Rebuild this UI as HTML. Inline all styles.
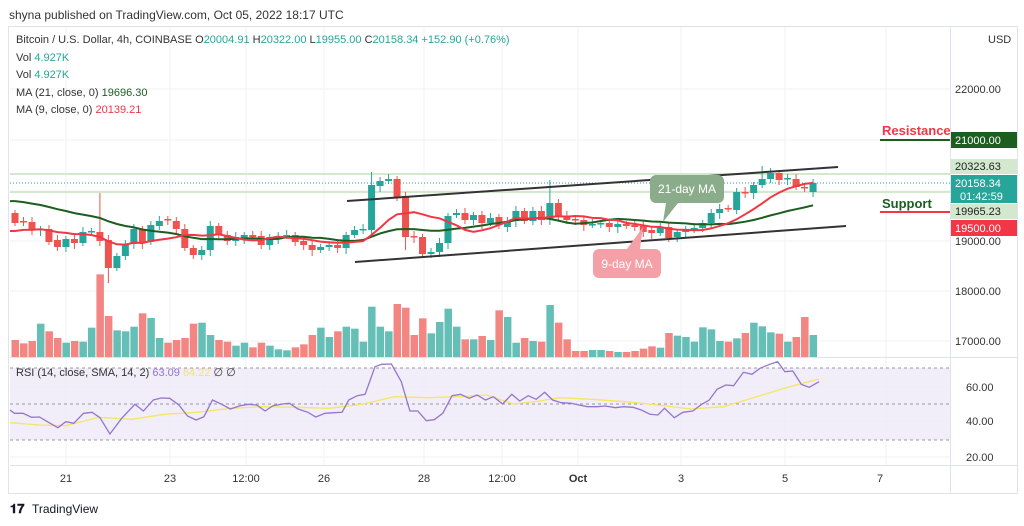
<!DOCTYPE html>
<html><head><meta charset="utf-8"><style>
body{margin:0;background:#fff;width:1024px;height:526px;overflow:hidden;font-family:"Liberation Sans",sans-serif}
svg{position:absolute;left:0;top:0}
</style></head><body>
<svg id="s" width="1024" height="526" xmlns="http://www.w3.org/2000/svg" font-family="Liberation Sans, sans-serif">
<text x="9" y="19" font-size="12" fill="#333">shyna published on TradingView.com, Oct 05, 2022 18:17 UTC</text>
<rect x="8.5" y="26.5" width="1009" height="467" fill="none" stroke="#e0e3eb"/>
<g id="grid" stroke="#f0f2f5" stroke-width="1"></g>
<rect x="10" y="368" width="940" height="72" fill="#ede8f7" opacity="0.8"/>
<g stroke="#9598a1" stroke-dasharray="3,3" stroke-width="1">
<line x1="10" y1="368" x2="950" y2="368"/><line x1="10" y1="404" x2="950" y2="404"/><line x1="10" y1="440" x2="950" y2="440"/></g>
<line x1="10" y1="174" x2="950" y2="174" stroke="#d3e8cf" stroke-width="2"/>
<line x1="10" y1="192" x2="950" y2="192" stroke="#d3e8cf" stroke-width="2"/>
<line x1="10" y1="183" x2="950" y2="183" stroke="#26a69a" stroke-dasharray="1,2"/>
<g id="vol"></g><g id="cand"></g>
<polyline id="ma21" fill="none" stroke="#1b5e20" stroke-width="2"/>
<polyline id="ma9" fill="none" stroke="#f23645" stroke-width="2"/>
<line x1="347" y1="201" x2="838" y2="167" stroke="#333" stroke-width="2"/>
<line x1="355" y1="262" x2="846" y2="226" stroke="#333" stroke-width="2"/>
<path d="M656 175h62a6 6 0 0 1 6 6v16a6 6 0 0 1-6 6h-40l-15 19l3-19h-10a6 6 0 0 1-6-6v-16a6 6 0 0 1 6-6z" fill="#8aac8a"/>
<text x="687" y="193" font-size="12" fill="#fff" text-anchor="middle">21-day MA</text>
<path d="M599 249h56a6 6 0 0 1 6 6v17a6 6 0 0 1-6 6h-56a6 6 0 0 1-6-6v-17a6 6 0 0 1 6-6h28l16-22l-3 22z" fill="#f5a0a6"/>
<text x="627" y="268" font-size="12" fill="#fff" text-anchor="middle">9-day MA</text>
<line x1="880" y1="140" x2="950" y2="140" stroke="#1b5e20" stroke-width="2"/>
<text x="882" y="135" font-size="13" font-weight="bold" fill="#f23645">Resistance</text>
<line x1="880" y1="212" x2="950" y2="212" stroke="#f23645" stroke-width="2"/>
<text x="882" y="208" font-size="13" font-weight="bold" fill="#1b5e20">Support</text>
<polyline id="rsima" fill="none" stroke="#f5e663" stroke-width="1.3"/>
<polyline id="rsi" fill="none" stroke="#9575cd" stroke-width="1.3"/>
<line x1="950.5" y1="27" x2="950.5" y2="493" stroke="#e0e3eb"/>
<line x1="10" y1="357.5" x2="1017" y2="357.5" stroke="#e0e3eb"/>
<line x1="10" y1="465.5" x2="1017" y2="465.5" stroke="#e0e3eb"/>
<g font-size="11" fill="#333">
<text x="988" y="43">USD</text>
<text x="955" y="93">22000.00</text>
<text x="955" y="295">18000.00</text>
<text x="955" y="345">17000.00</text>
<text x="955" y="245">19000.00</text>
<text x="966" y="391">60.00</text><text x="966" y="425">40.00</text><text x="966" y="461">20.00</text>
</g>
<rect x="951" y="132" width="66" height="16" fill="#1b5e20"/><text x="955" y="144" font-size="11" fill="#fff">21000.00</text>
<rect x="951" y="159" width="66" height="15" fill="#d3e8cf"/><text x="955" y="170" font-size="11" fill="#222">20323.63</text>
<rect x="951" y="175" width="66" height="28" fill="#26a69a"/><text x="955" y="187" font-size="11" fill="#fff">20158.34</text><text x="960" y="200" font-size="11" fill="#fff">01:42:59</text>
<rect x="951" y="204" width="66" height="15" fill="#d3e8cf"/><text x="955" y="215" font-size="11" fill="#222">19965.23</text>
<rect x="951" y="220" width="66" height="16" fill="#f23645"/><text x="955" y="232" font-size="11" fill="#fff">19500.00</text>
<g font-size="11" fill="#333" text-anchor="middle">
<text x="66" y="482">21</text><text x="170" y="482">23</text><text x="246" y="482">12:00</text><text x="324" y="482">26</text><text x="424" y="482">28</text><text x="502" y="482">12:00</text><text x="578" y="482" font-weight="bold">Oct</text><text x="681" y="482">3</text><text x="785" y="482">5</text><text x="880" y="482">7</text>
</g>
<g font-size="11">
<text x="16" y="43" fill="#333">Bitcoin / U.S. Dollar, 4h, COINBASE  <tspan>O</tspan><tspan fill="#26a69a">20004.91</tspan>  H<tspan fill="#26a69a">20322.00</tspan>  L<tspan fill="#26a69a">19955.00</tspan>  C<tspan fill="#26a69a">20158.34</tspan>  <tspan fill="#26a69a">+152.90 (+0.76%)</tspan></text>
<text x="16" y="61" fill="#333">Vol  <tspan fill="#26a69a">4.927K</tspan></text>
<text x="16" y="78" fill="#333">Vol  <tspan fill="#26a69a">4.927K</tspan></text>
<text x="16" y="96" fill="#333">MA (21, close, 0)  <tspan fill="#1b5e20">19696.30</tspan></text>
<text x="16" y="113" fill="#333">MA (9, close, 0)  <tspan fill="#f23645">20139.21</tspan></text>
<text x="16" y="376" fill="#333">RSI (14, close, SMA, 14, 2)  <tspan fill="#9575cd">63.09</tspan>  <tspan fill="#f5e663">64.22</tspan>  ∅  ∅</text>
</g>
<text x="10" y="513" font-size="13" font-weight="bold" fill="#131722">𝟏𝟕</text>
<text x="32" y="513" font-size="12" fill="#131722">TradingView</text>
</svg>
<script>
var NS="http://www.w3.org/2000/svg",S=document.getElementById('s');
function el(p,t,a){var e=document.createElementNS(NS,t);for(var k in a)e.setAttribute(k,a[k]);p.appendChild(e);return e;}
var g=document.getElementById('grid');
[66,170,246,324,424,502,578,681,785,886].forEach(function(x){el(g,'line',{x1:x,y1:27,x2:x,y2:465});});
[89,140,191,241,291,341,387,421,457].forEach(function(y){el(g,'line',{x1:10,y1:y,x2:950,y2:y});});
// candles: [top,bottom,color t/r]
var C=[[213,223,'r'],[221,222,'r'],[222,230,'r'],[229,230,'t'],[229,242,'r'],[240,247,'r'],[239,247,'t'],[239,243,'r'],[232,243,'t'],[231,232,'t'],[232,241,'r'],[240,268,'r'],[256,268,'t'],[244,256,'t'],[229,244,'t'],[229,243,'r'],[225,242,'t'],[221,226,'t'],[219,220,'r'],[221,229,'r'],[229,248,'r'],[248,255,'r'],[250,255,'t'],[226,250,'t'],[226,235,'r'],[235,241,'r'],[237,241,'t'],[235,238,'t'],[235,237,'r'],[236,245,'r'],[237,245,'t'],[236,238,'t'],[235,236,'t'],[235,242,'r'],[241,245,'r'],[245,250,'r'],[247,250,'t'],[245,247,'t'],[245,248,'r'],[235,248,'t'],[230,235,'t'],[229,230,'t'],[185,230,'t'],[181,186,'t'],[179,181,'t'],[179,197,'r'],[196,237,'r'],[236,237,'r'],[237,254,'r'],[252,254,'t'],[243,252,'t'],[216,243,'t'],[213,215,'t'],[213,220,'r'],[215,220,'t'],[215,223,'r'],[218,223,'t'],[217,225,'r'],[221,227,'t'],[211,221,'t'],[211,221,'r'],[211,221,'t'],[211,220,'r'],[203,219,'t'],[203,217,'r'],[216,220,'r'],[219,220,'r'],[220,225,'r'],[224,225,'t'],[223,224,'t'],[223,227,'r'],[224,227,'t'],[224,226,'r'],[225,227,'r'],[226,232,'r'],[230,233,'r'],[227,233,'t'],[227,238,'r'],[232,237,'t'],[230,232,'t'],[228,230,'t'],[223,228,'t'],[213,223,'t'],[209,213,'t'],[208,209,'r'],[192,210,'t'],[192,193,'r'],[185,193,'t'],[179,185,'t'],[173,179,'t'],[173,180,'r'],[178,179,'t'],[179,187,'r'],[187,188,'r'],[183,192,'t']];
var V=[570,580,573,521,544,564,578,573,575,533,373,498,541,544,530,490,504,564,578,570,564,521,518,555,570,575,587,578,592,578,587,598,601,592,583,555,533,561,544,530,536,575,470,530,544,462,473,555,505,550,516,476,530,568,568,558,570,481,501,578,564,573,575,465,518,568,603,603,600,600,603,606,606,603,596,589,593,549,557,561,575,532,538,573,575,565,549,518,529,547,551,575,561,501,555];
var wick={10:193,11:283,63:180,42:172,88:166,46:250};
var cg=document.getElementById('cand'),vg=document.getElementById('vol'),closes=[];
C.forEach(function(c,i){var x=15+i*8.49,col=c[2]=='t'?'#26a69a':'#ef5350';
 var hi=c[0]-3-(i%3),lo=c[1]+3+(i%4);if(wick[i]){if(wick[i]<c[0])hi=wick[i];else lo=wick[i];}
 el(cg,'line',{x1:x,y1:hi,x2:x,y2:lo,stroke:col,'stroke-width':1});
 el(cg,'rect',{x:x-3.5,y:c[0],width:7,height:Math.max(1.5,c[1]-c[0]),fill:col});
 closes.push(c[2]=='t'?c[0]:c[1]);
 var vt=V[i]/3+150;el(vg,'rect',{x:x-3.5,y:vt,width:7.5,height:357-vt,fill:c[2]=='t'?'#66bfb6':'#f38682'});
});
function ma(n,pre){var pts=[],arr=[];for(var k=0;k<n;k++)arr.push(pre);arr=arr.concat(closes);
 for(var i=0;i<closes.length;i++){var s=0;for(var j=0;j<n;j++)s+=arr[i+n-j];pts.push((15+i*8.49).toFixed(1)+','+(s/n).toFixed(1));}
 pts.unshift('10,'+pts[0].split(',')[1]);return pts.join(' ');}
document.getElementById('ma21').setAttribute('points',ma(21,200));
document.getElementById('ma9').setAttribute('points',ma(9,232));
var R=[15,165,22,175,35,175,48,187,60,186,72,200,88,218,100,200,112,205,127,175,140,172,152,188,167,237,185,190,205,148,218,168,233,135,245,129,258,130,272,150,285,183,298,195,310,185,323,135,337,148,350,162,365,152,378,148,390,150,403,168,415,152,430,147,440,145,453,162,468,172,480,186,494,175,508,173,520,172,530,135,543,122,555,118,570,35,580,28,595,27,610,80,623,168,635,168,648,197,660,194,673,175,687,122,700,118,713,130,725,120,738,135,750,125,764,147,778,118,790,138,803,122,815,133,828,112,840,135,853,143,868,145,880,150,893,155,908,155,920,153,935,158,948,155,962,157,975,165,988,178,1000,180,1010,160,1025,188,1038,172,1053,168,1065,150,1078,135,1090,103,1103,90,1115,92,1130,52,1143,58,1155,40,1170,28,1182,20,1193,50,1205,48,1218,88,1230,97,1245,80];
var Y=[15,203,60,210,100,212,150,187,200,193,250,178,300,172,350,160,400,155,450,157,500,160,550,148,600,125,650,128,700,125,740,120,780,147,820,138,850,128,900,133,950,140,1000,150,1050,162,1100,155,1150,125,1200,95,1245,72];
function pl(a){var p=[];for(var i=0;i<a.length;i+=2)p.push((a[i]/1.52).toFixed(1)+','+(355+a[i+1]/3).toFixed(1));return p.join(' ');}
document.getElementById('rsi').setAttribute('points',pl(R));
document.getElementById('rsima').setAttribute('points',pl(Y));
</script>
</body></html>
